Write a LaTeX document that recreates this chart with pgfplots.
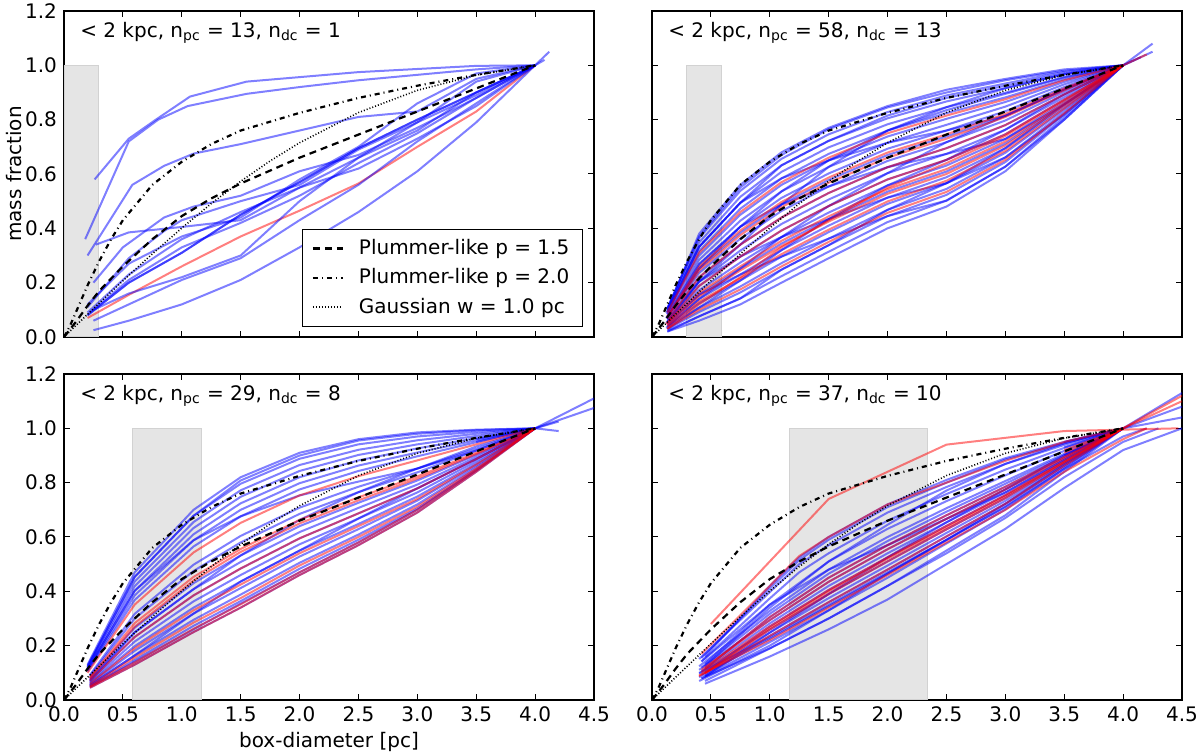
\documentclass[border=0pt]{standalone}
\usepackage{pgfplots}
\pgfplotsset{compat=1.18}
\usepackage{pgfplotstable}
\usepackage{fontspec}
\setmainfont{DejaVu Sans}
\newcommand{\fs}{\fontsize{10}{12}\selectfont}
\pgfplotsset{
  panel/.style={
    width=265pt, height=163pt, scale only axis,
    xmin=0, xmax=4.5, ymin=0, ymax=1.2,
    xtick={0,0.5,1,1.5,2,2.5,3,3.5,4,4.5},
    ytick={0,0.2,0.4,0.6,0.8,1.0,1.2},
    xticklabels={}, yticklabels={},
    tick align=inside, tick pos=both,
    major tick length=3pt,
    axis line style={line width=0.6pt},
    every tick/.style={black, line width=0.5pt},
    tick label style={font=\fs},
    label style={font=\fs},
    anchor=south west,
  },
  xlab/.style={xticklabels={0.0,0.5,1.0,1.5,2.0,2.5,3.0,3.5,4.0,4.5}},
  ylab/.style={yticklabels={0.0,0.2,0.4,0.6,0.8,1.0,1.2}},
  bl/.style={blue, draw opacity=0.5, line width=1pt, forget plot, line join=round},
  rd/.style={red, draw opacity=0.5, line width=1pt, forget plot, line join=round},
  shade/.style={fill=gray!20, draw=gray!35, line width=0.5pt, forget plot},
  pl15/.style={black, line width=1.1pt, dash pattern=on 3.5pt off 2.5pt},
  pl20/.style={black, line width=1.1pt, dash pattern=on 2.5pt off 2pt on 0.5pt off 2pt},
  gau/.style={black, line width=0.8pt, dash pattern=on 0.5pt off 1pt},
}
\pgfplotstableread{
x y
0 0
0.1 0.055
0.2 0.115
0.3 0.17
0.5 0.26
0.75 0.36
1.0 0.445
1.25 0.51
1.5 0.565
2.0 0.66
2.5 0.745
3.0 0.83
3.5 0.915
4.0 1.0
}\plumA
\pgfplotstableread{
x y
0 0
0.05 0.04
0.1 0.09
0.2 0.19
0.3 0.28
0.4 0.36
0.5 0.43
0.75 0.56
1.0 0.645
1.25 0.71
1.5 0.76
2.0 0.825
2.5 0.88
3.0 0.925
3.5 0.965
4.0 1.0
}\plumB
\pgfplotstableread{
x y
0 0
0.1 0.042
0.25 0.104
0.5 0.207
0.75 0.306
1.0 0.401
1.25 0.491
1.5 0.573
1.75 0.648
2.0 0.715
2.5 0.826
3.0 0.908
3.5 0.964
4.0 1.0
}\gauss
\newcommand{\refcurves}{%
  \addplot[pl15] table {\plumA};
  \addplot[pl20] table {\plumB};
  \addplot[gau] table {\gauss};
}
\begin{document}
\begin{tikzpicture}
\useasboundingbox (0,0) rectangle (600pt,377.5pt);

% ---------------- top left ----------------
\begin{axis}[panel, ylab, at={(32pt,209pt)},
  ylabel={mass fraction}, ylabel style={at={(axis description cs:-0.094,0.5)}, anchor=center},
  legend style={at={(axis description cs:1,0)}, anchor=south east, xshift=-5.5pt, yshift=5pt,
    draw=black, line width=0.7pt, font=\fs, row sep=1.6pt, column sep=5.5pt, inner xsep=4.5pt, inner ysep=3pt},
  legend image code/.code={\draw[#1] (0pt,0pt) -- (15pt,0pt);},
  legend cell align=left]
\addplot[shade] coordinates {(0,1) (0.29,1)} \closedcycle;
\addplot[bl] coordinates {(0.26,0.58) (0.55,0.73) (0.78,0.80) (1.07,0.885) (1.55,0.94) (2.5,0.975) (3.5,0.998) (4.0,1.0)};
\addplot[bl] coordinates {(0.18,0.36) (0.55,0.72) (0.8,0.80) (1.05,0.85) (1.55,0.895) (2.0,0.92) (2.5,0.945) (3.5,0.985) (4.0,1.0)};
\addplot[bl] coordinates {(0.2,0.30) (0.58,0.56) (0.85,0.63) (1.1,0.675) (1.5,0.71) (2.0,0.76) (2.5,0.81) (3.0,0.83) (3.5,0.95) (4.0,1.0)};
\addplot[bl] coordinates {(0.25,0.20) (0.5,0.33) (0.85,0.44) (1.1,0.48) (1.5,0.52) (2.0,0.61) (2.5,0.67) (3.0,0.77) (3.5,0.88) (4.0,1.0)};
\addplot[bl] coordinates {(0.27,0.34) (0.55,0.385) (1.0,0.405) (1.5,0.43) (2.0,0.55) (2.5,0.66) (3.0,0.76) (3.5,0.90) (4.0,1.0)};
\addplot[bl] coordinates {(0.2,0.08) (0.55,0.2) (1.0,0.31) (1.5,0.45) (2.0,0.57) (2.5,0.695) (3.0,0.80) (3.5,0.90) (4.0,1.0)};
\addplot[bl] coordinates {(0.2,0.08) (0.55,0.2) (1.0,0.31) (1.5,0.45) (2.0,0.57) (2.5,0.695) (3.0,0.80) (3.5,0.90) (4.0,1.0)};
\addplot[rd] coordinates {(0.2,0.07) (0.55,0.155) (1.0,0.26) (1.5,0.37) (2.0,0.465) (2.5,0.565) (3.0,0.70) (3.5,0.83) (4.0,1.0)};
\addplot[bl] coordinates {(0.25,0.025) (0.55,0.06) (1.0,0.12) (1.5,0.21) (2.0,0.33) (2.5,0.46) (3.0,0.61) (3.5,0.79) (4.0,1.0)};
\addplot[bl] coordinates {(0.25,0.06) (0.55,0.12) (1.0,0.21) (1.5,0.29) (2.0,0.43) (2.5,0.56) (3.0,0.72) (3.5,0.86) (4.0,1.0)};
\addplot[bl] coordinates {(0.2,0.09) (0.55,0.23) (1.0,0.36) (1.5,0.46) (2.0,0.55) (2.5,0.62) (3.0,0.73) (3.5,0.85) (4.0,1.0)};
\addplot[bl] coordinates {(0.2,0.11) (0.55,0.29) (0.85,0.39) (1.0,0.43) (1.5,0.50) (2.0,0.56) (2.5,0.69) (3.0,0.79) (3.5,0.89) (4.0,1.0)};
\addplot[bl] coordinates {(0.25,0.10) (0.55,0.16) (1.0,0.22) (1.5,0.30) (2.0,0.50) (2.5,0.66) (3.0,0.79) (3.5,0.94) (4.0,1.0)};
\addplot[bl] coordinates {(0.2,0.12) (0.55,0.27) (1.0,0.37) (1.5,0.44) (2.0,0.58) (2.5,0.70) (3.0,0.86) (3.5,0.97) (4.0,1.0) (4.12,1.05)};
\addplot[bl] coordinates {(0.22,0.09) (0.55,0.21) (1.0,0.33) (1.5,0.42) (2.0,0.52) (2.5,0.64) (3.0,0.75) (3.5,0.88) (4.0,1.0) (4.08,1.02)};
\addplot[pl15] table {\plumA}; \addlegendentry{Plummer-like p = 1.5}
\addplot[pl20] table {\plumB}; \addlegendentry{Plummer-like p = 2.0}
\addplot[gau] table {\gauss}; \addlegendentry{Gaussian w = 1.0 pc}
\node[anchor=base west, inner sep=0pt, font=\fs] at (rel axis cs:0.03,0.92) {< 2 kpc, n\textsubscript{pc} = 13, n\textsubscript{dc} = 1};
\end{axis}

% ---------------- top right ----------------
\begin{axis}[panel, at={(326pt,209pt)}]
\addplot[shade] coordinates {(0.29,1) (0.59,1)} \closedcycle;
\addplot[bl] coordinates {(0.13,0.02) (0.4,0.06) (0.75,0.12) (1.1,0.20) (1.5,0.29) (2.0,0.40) (2.5,0.48) (3.0,0.61) (3.5,0.80) (4.0,1)};
\addplot[bl] coordinates {(0.14,0.025) (0.4,0.076) (0.75,0.142) (1.1,0.224) (1.5,0.314) (2.0,0.423) (2.5,0.502) (3.0,0.627) (3.5,0.809) (4.0,1)};
\addplot[bl] coordinates {(0.13,0.029) (0.4,0.092) (0.75,0.164) (1.1,0.248) (1.5,0.338) (2.0,0.445) (2.5,0.523) (3.0,0.644) (3.5,0.819) (4.0,1)};
\addplot[bl] coordinates {(0.12,0.034) (0.4,0.108) (0.75,0.186) (1.1,0.272) (1.5,0.362) (2.0,0.468) (2.5,0.545) (3.0,0.661) (3.5,0.828) (4.0,1)};
\addplot[bl] coordinates {(0.13,0.038) (0.4,0.124) (0.75,0.208) (1.1,0.296) (1.5,0.386) (2.0,0.49) (2.5,0.566) (3.0,0.678) (3.5,0.837) (4.0,1)};
\addplot[bl] coordinates {(0.14,0.043) (0.4,0.14) (0.75,0.23) (1.1,0.32) (1.5,0.41) (2.0,0.513) (2.5,0.588) (3.0,0.695) (3.5,0.846) (4.0,1)};
\addplot[bl] coordinates {(0.13,0.047) (0.4,0.156) (0.75,0.252) (1.1,0.344) (1.5,0.434) (2.0,0.535) (2.5,0.609) (3.0,0.712) (3.5,0.856) (4.0,1)};
\addplot[bl] coordinates {(0.12,0.052) (0.4,0.172) (0.75,0.274) (1.1,0.368) (1.5,0.458) (2.0,0.558) (2.5,0.631) (3.0,0.729) (3.5,0.865) (4.0,1)};
\addplot[bl] coordinates {(0.13,0.056) (0.4,0.188) (0.75,0.296) (1.1,0.392) (1.5,0.482) (2.0,0.58) (2.5,0.652) (3.0,0.746) (3.5,0.874) (4.0,1)};
\addplot[bl] coordinates {(0.14,0.061) (0.4,0.204) (0.75,0.318) (1.1,0.416) (1.5,0.506) (2.0,0.603) (2.5,0.674) (3.0,0.763) (3.5,0.883) (4.0,1)};
\addplot[bl] coordinates {(0.13,0.065) (0.4,0.22) (0.75,0.34) (1.1,0.44) (1.5,0.53) (2.0,0.625) (2.5,0.695) (3.0,0.78) (3.5,0.893) (4.0,1)};
\addplot[bl] coordinates {(0.12,0.07) (0.4,0.236) (0.75,0.362) (1.1,0.464) (1.5,0.554) (2.0,0.648) (2.5,0.717) (3.0,0.797) (3.5,0.902) (4.0,1)};
\addplot[bl] coordinates {(0.13,0.074) (0.4,0.252) (0.75,0.384) (1.1,0.488) (1.5,0.578) (2.0,0.67) (2.5,0.738) (3.0,0.814) (3.5,0.911) (4.0,1)};
\addplot[bl] coordinates {(0.14,0.079) (0.4,0.268) (0.75,0.406) (1.1,0.512) (1.5,0.602) (2.0,0.693) (2.5,0.76) (3.0,0.831) (3.5,0.92) (4.0,1)};
\addplot[bl] coordinates {(0.13,0.083) (0.4,0.284) (0.75,0.428) (1.1,0.536) (1.5,0.626) (2.0,0.715) (2.5,0.781) (3.0,0.848) (3.5,0.93) (4.0,1)};
\addplot[bl] coordinates {(0.12,0.088) (0.4,0.30) (0.75,0.45) (1.1,0.56) (1.5,0.65) (2.0,0.738) (2.5,0.803) (3.0,0.865) (3.5,0.939) (4.0,1)};
\addplot[bl] coordinates {(0.13,0.092) (0.4,0.316) (0.75,0.472) (1.1,0.584) (1.5,0.674) (2.0,0.76) (2.5,0.824) (3.0,0.882) (3.5,0.948) (4.0,1)};
\addplot[bl] coordinates {(0.14,0.097) (0.4,0.332) (0.75,0.494) (1.1,0.608) (1.5,0.698) (2.0,0.783) (2.5,0.846) (3.0,0.899) (3.5,0.957) (4.0,1)};
\addplot[bl] coordinates {(0.13,0.101) (0.4,0.348) (0.75,0.516) (1.1,0.632) (1.5,0.722) (2.0,0.805) (2.5,0.867) (3.0,0.916) (3.5,0.967) (4.0,1)};
\addplot[bl] coordinates {(0.13,0.106) (0.4,0.364) (0.75,0.538) (1.1,0.656) (1.5,0.746) (2.0,0.828) (2.5,0.889) (3.0,0.933) (3.5,0.976) (4.0,1)};
\addplot[bl] coordinates {(0.14,0.11) (0.4,0.38) (0.75,0.56) (1.1,0.68) (1.5,0.77) (2.0,0.85) (2.5,0.91) (3.0,0.95) (3.5,0.985) (4.0,1)};
\addplot[bl] coordinates {(0.13,0.105) (0.4,0.37) (0.75,0.55) (1.1,0.67) (1.5,0.765) (2.0,0.845) (2.5,0.90) (3.0,0.945) (3.5,0.98) (4.0,1)};
\addplot[bl] coordinates {(0.13,0.038) (0.4,0.14) (0.75,0.252) (1.1,0.368) (1.5,0.482) (2.0,0.603) (2.5,0.717) (3.0,0.814) (3.5,0.911) (4.0,1)};
\addplot[bl] coordinates {(0.13,0.083) (0.4,0.268) (0.75,0.406) (1.1,0.488) (1.5,0.554) (2.0,0.625) (2.5,0.674) (3.0,0.729) (3.5,0.856) (4.0,1)};
\addplot[bl] coordinates {(0.13,0.029) (0.4,0.108) (0.75,0.208) (1.1,0.32) (1.5,0.434) (2.0,0.558) (2.5,0.652) (3.0,0.763) (3.5,0.893) (4.0,1)};
\addplot[bl] coordinates {(0.13,0.065) (0.4,0.204) (0.75,0.296) (1.1,0.368) (1.5,0.434) (2.0,0.513) (2.5,0.566) (3.0,0.661) (3.5,0.819) (4.0,1)};
\addplot[bl] coordinates {(0.13,0.056) (0.4,0.204) (0.75,0.34) (1.1,0.488) (1.5,0.626) (2.0,0.76) (2.5,0.846) (3.0,0.916) (3.5,0.967) (4.0,1)};
\addplot[bl] coordinates {(0.13,0.101) (0.4,0.332) (0.75,0.494) (1.1,0.584) (1.5,0.65) (2.0,0.715) (2.5,0.76) (3.0,0.814) (3.5,0.911) (4.0,1)};
\addplot[bl] coordinates {(0.13,0.02) (0.4,0.076) (0.75,0.142) (1.1,0.248) (1.5,0.338) (2.0,0.468) (2.5,0.566) (3.0,0.695) (3.5,0.856) (4.0,1)};
\addplot[bl] coordinates {(0.13,0.047) (0.4,0.156) (0.75,0.23) (1.1,0.296) (1.5,0.362) (2.0,0.445) (2.5,0.502) (3.0,0.627) (3.5,0.80) (4.0,1)};
\addplot[bl] coordinates {(0.13,0.074) (0.4,0.252) (0.75,0.406) (1.1,0.536) (1.5,0.65) (2.0,0.76) (2.5,0.835) (3.0,0.895) (3.5,0.955) (4.0,1)};
\addplot[bl] coordinates {(0.13,0.092) (0.4,0.332) (0.75,0.494) (1.1,0.632) (1.5,0.722) (2.0,0.815) (2.5,0.88) (3.0,0.925) (3.5,0.97) (4.0,1)};
\addplot[bl] coordinates {(3.9,0.98) (4.0,1.0) (4.25,1.08)};
\addplot[bl] coordinates {(3.9,0.985) (4.0,1.0) (4.25,1.05)};
\addplot[bl] coordinates {(3.85,0.97) (4.0,1.0) (4.15,1.03)};
\addplot[rd] coordinates {(0.13,0.072) (0.4,0.245) (0.75,0.375) (1.1,0.478) (1.5,0.568) (2.0,0.66) (2.5,0.73) (3.0,0.81) (3.5,0.908) (4.0,1)};
\addplot[rd] coordinates {(0.14,0.065) (0.4,0.22) (0.75,0.34) (1.1,0.44) (1.5,0.53) (2.0,0.625) (2.5,0.695) (3.0,0.78) (3.5,0.893) (4.0,1)};
\addplot[rd] coordinates {(0.13,0.045) (0.4,0.15) (0.75,0.245) (1.1,0.335) (1.5,0.425) (2.0,0.527) (2.5,0.60) (3.0,0.705) (3.5,0.852) (4.0,1)};
\addplot[rd] coordinates {(0.12,0.049) (0.4,0.163) (0.75,0.26) (1.1,0.354) (1.5,0.444) (2.0,0.544) (2.5,0.618) (3.0,0.72) (3.5,0.86) (4.0,1)};
\addplot[rd] coordinates {(0.13,0.04) (0.4,0.13) (0.75,0.216) (1.1,0.305) (1.5,0.395) (2.0,0.499) (2.5,0.575) (3.0,0.685) (3.5,0.841) (4.0,1)};
\addplot[rd] coordinates {(0.14,0.056) (0.4,0.188) (0.75,0.296) (1.1,0.392) (1.5,0.482) (2.0,0.58) (2.5,0.652) (3.0,0.746) (3.5,0.874) (4.0,1)};
\addplot[rd] coordinates {(0.13,0.031) (0.4,0.10) (0.75,0.175) (1.1,0.26) (1.5,0.35) (2.0,0.457) (2.5,0.534) (3.0,0.652) (3.5,0.823) (4.0,1)};
\addplot[rd] coordinates {(0.13,0.076) (0.4,0.258) (0.75,0.392) (1.1,0.497) (1.5,0.587) (2.0,0.679) (2.5,0.746) (3.0,0.821) (3.5,0.915) (4.0,1)};
\addplot[rd] coordinates {(0.13,0.03) (0.4,0.12) (0.75,0.22) (1.1,0.33) (1.5,0.43) (2.0,0.55) (2.5,0.64) (3.0,0.74) (3.5,0.87) (4.0,1)};
\addplot[rd] coordinates {(0.13,0.09) (0.4,0.31) (0.75,0.46) (1.1,0.57) (1.5,0.66) (2.0,0.75) (2.5,0.815) (3.0,0.875) (3.5,0.945) (4.0,1)};
\addplot[rd] coordinates {(3.9,0.99) (4.0,1.0) (4.2,1.04)};
\refcurves
\node[anchor=base west, inner sep=0pt, font=\fs] at (rel axis cs:0.03,0.92) {< 2 kpc, n\textsubscript{pc} = 58, n\textsubscript{dc} = 13};
\end{axis}

% ---------------- bottom left ----------------
\begin{axis}[panel, xlab, ylab, at={(32pt,27.5pt)},
  xlabel={box-diameter [pc]}, xlabel style={at={(axis description cs:0.5,-0.13)}, anchor=center}]
\addplot[shade] coordinates {(0.585,1) (1.17,1)} \closedcycle;
\addplot[bl] coordinates {(0.22,0.049) (0.6,0.147) (1.1,0.273) (1.5,0.364) (2.0,0.483) (2.5,0.590) (3.0,0.705) (3.5,0.848) (4.0,1)};
\addplot[bl] coordinates {(0.22,0.054) (0.6,0.164) (1.1,0.295) (1.5,0.388) (2.0,0.505) (2.5,0.609) (3.0,0.720) (3.5,0.856) (4.0,1)};
\addplot[bl] coordinates {(0.22,0.058) (0.6,0.181) (1.1,0.318) (1.5,0.412) (2.0,0.528) (2.5,0.629) (3.0,0.734) (3.5,0.863) (4.0,1)};
\addplot[bl] coordinates {(0.22,0.062) (0.6,0.198) (1.1,0.34) (1.5,0.436) (2.0,0.55) (2.5,0.648) (3.0,0.749) (3.5,0.871) (4.0,1)};
\addplot[bl] coordinates {(0.22,0.066) (0.6,0.215) (1.1,0.363) (1.5,0.46) (2.0,0.573) (2.5,0.668) (3.0,0.764) (3.5,0.879) (4.0,1)};
\addplot[bl] coordinates {(0.22,0.071) (0.6,0.232) (1.1,0.385) (1.5,0.484) (2.0,0.595) (2.5,0.687) (3.0,0.779) (3.5,0.887) (4.0,1)};
\addplot[bl] coordinates {(0.22,0.075) (0.6,0.249) (1.1,0.408) (1.5,0.508) (2.0,0.618) (2.5,0.707) (3.0,0.793) (3.5,0.894) (4.0,1)};
\addplot[bl] coordinates {(0.22,0.079) (0.6,0.266) (1.1,0.43) (1.5,0.532) (2.0,0.64) (2.5,0.726) (3.0,0.808) (3.5,0.902) (4.0,1)};
\addplot[bl] coordinates {(0.22,0.088) (0.6,0.30) (1.1,0.475) (1.5,0.58) (2.0,0.685) (2.5,0.765) (3.0,0.838) (3.5,0.918) (4.0,1)};
\addplot[bl] coordinates {(0.22,0.092) (0.6,0.317) (1.1,0.498) (1.5,0.604) (2.0,0.708) (2.5,0.785) (3.0,0.852) (3.5,0.925) (4.0,1)};
\addplot[bl] coordinates {(0.2,0.105) (0.6,0.368) (1.1,0.565) (1.5,0.676) (2.0,0.775) (2.5,0.843) (3.0,0.897) (3.5,0.949) (4.0,1)};
\addplot[bl] coordinates {(0.2,0.109) (0.6,0.385) (1.1,0.588) (1.5,0.70) (2.0,0.798) (2.5,0.863) (3.0,0.911) (3.5,0.956) (4.0,1)};
\addplot[bl] coordinates {(0.2,0.113) (0.6,0.402) (1.1,0.61) (1.5,0.724) (2.0,0.82) (2.5,0.882) (3.0,0.926) (3.5,0.964) (4.0,1)};
\addplot[bl] coordinates {(0.2,0.117) (0.6,0.419) (1.1,0.633) (1.5,0.748) (2.0,0.843) (2.5,0.902) (3.0,0.941) (3.5,0.972) (4.0,1)};
\addplot[bl] coordinates {(0.2,0.122) (0.6,0.436) (1.1,0.655) (1.5,0.772) (2.0,0.865) (2.5,0.921) (3.0,0.956) (3.5,0.980) (4.0,1)};
\addplot[bl] coordinates {(0.2,0.126) (0.6,0.453) (1.1,0.678) (1.5,0.796) (2.0,0.888) (2.5,0.941) (3.0,0.970) (3.5,0.987) (4.0,1)};
\addplot[bl] coordinates {(0.2,0.13) (0.6,0.47) (1.1,0.70) (1.5,0.82) (2.0,0.91) (2.5,0.96) (3.0,0.985) (3.5,0.995) (4.0,1)};
\addplot[bl] coordinates {(0.22,0.071) (0.6,0.249) (1.1,0.408) (1.5,0.532) (2.0,0.663) (2.5,0.765) (3.0,0.852) (3.5,0.933) (4.0,1)};
\addplot[bl] coordinates {(0.2,0.113) (0.6,0.402) (1.1,0.588) (1.5,0.676) (2.0,0.753) (2.5,0.804) (3.0,0.852) (3.5,0.918) (4.0,1)};
\addplot[bl] coordinates {(0.22,0.054) (0.6,0.164) (1.1,0.318) (1.5,0.436) (2.0,0.55) (2.5,0.668) (3.0,0.779) (3.5,0.887) (4.0,1)};
\addplot[bl] coordinates {(0.2,0.122) (0.6,0.453) (1.1,0.678) (1.5,0.808) (2.0,0.90) (2.5,0.955) (3.0,0.98) (3.5,0.993) (4.0,1)};
\addplot[bl] coordinates {(0.22,0.045) (0.6,0.13) (1.1,0.25) (1.5,0.34) (2.0,0.46) (2.5,0.57) (3.0,0.69) (3.5,0.84) (4.0,1)};
\addplot[bl] coordinates {(0.22,0.05) (0.6,0.14) (1.1,0.26) (1.5,0.355) (2.0,0.47) (2.5,0.58) (3.0,0.70) (3.5,0.845) (4.0,1)};
\addplot[bl] coordinates {(3.5,0.96) (4.0,1.0) (4.5,1.11)};
\addplot[bl] coordinates {(3.5,0.95) (4.0,1.0) (4.5,1.075)};
\addplot[bl] coordinates {(3.9,0.99) (4.0,1.0) (4.2,1.025)};
\addplot[bl] coordinates {(3.9,0.985) (4.0,1.0) (4.2,0.99)};
\addplot[rd] coordinates {(0.22,0.045) (0.6,0.13) (1.1,0.25) (1.5,0.34) (2.0,0.46) (2.5,0.57) (3.0,0.69) (3.5,0.84) (4.0,1)};
\addplot[rd] coordinates {(0.22,0.06) (0.6,0.19) (1.1,0.33) (1.5,0.425) (2.0,0.54) (2.5,0.64) (3.0,0.74) (3.5,0.867) (4.0,1)};
\addplot[rd] coordinates {(0.22,0.083) (0.6,0.283) (1.1,0.453) (1.5,0.556) (2.0,0.663) (2.5,0.746) (3.0,0.823) (3.5,0.910) (4.0,1)};
\addplot[rd] coordinates {(0.2,0.100) (0.6,0.351) (1.1,0.543) (1.5,0.652) (2.0,0.753) (2.5,0.824) (3.0,0.882) (3.5,0.941) (4.0,1)};
\addplot[rd] coordinates {(0.22,0.071) (0.6,0.232) (1.1,0.385) (1.5,0.484) (2.0,0.595) (2.5,0.687) (3.0,0.779) (3.5,0.887) (4.0,1)};
\addplot[rd] coordinates {(0.22,0.052) (0.6,0.156) (1.1,0.285) (1.5,0.375) (2.0,0.495) (2.5,0.60) (3.0,0.712) (3.5,0.852) (4.0,1)};
\addplot[rd] coordinates {(0.22,0.08) (0.6,0.27) (1.1,0.44) (1.5,0.545) (2.0,0.65) (2.5,0.735) (3.0,0.815) (3.5,0.905) (4.0,1)};
\addplot[rd] coordinates {(0.22,0.048) (0.6,0.138) (1.1,0.262) (1.5,0.352) (2.0,0.47) (2.5,0.58) (3.0,0.70) (3.5,0.846) (4.0,1)};
\refcurves
\node[anchor=base west, inner sep=0pt, font=\fs] at (rel axis cs:0.03,0.92) {< 2 kpc, n\textsubscript{pc} = 29, n\textsubscript{dc} = 8};
\end{axis}

% ---------------- bottom right ----------------
\begin{axis}[panel, xlab, at={(326pt,27.5pt)}]
\addplot[shade] coordinates {(1.165,1) (2.34,1)} \closedcycle;
\addplot[bl] coordinates {(0.45,0.07) (1.0,0.19) (1.5,0.30) (2.0,0.42) (2.5,0.55) (3.0,0.68) (3.5,0.84) (4.0,1)};
\addplot[bl] coordinates {(0.42,0.079) (1.0,0.213) (1.5,0.33) (2.0,0.45) (2.5,0.576) (3.0,0.701) (3.5,0.851) (4.0,1)};
\addplot[bl] coordinates {(0.4,0.084) (1.0,0.225) (1.5,0.345) (2.0,0.465) (2.5,0.589) (3.0,0.712) (3.5,0.857) (4.0,1)};
\addplot[bl] coordinates {(0.45,0.088) (1.0,0.236) (1.5,0.36) (2.0,0.48) (2.5,0.602) (3.0,0.722) (3.5,0.862) (4.0,1)};
\addplot[bl] coordinates {(0.42,0.093) (1.0,0.248) (1.5,0.375) (2.0,0.495) (2.5,0.615) (3.0,0.733) (3.5,0.868) (4.0,1)};
\addplot[bl] coordinates {(0.4,0.097) (1.0,0.259) (1.5,0.39) (2.0,0.51) (2.5,0.628) (3.0,0.743) (3.5,0.873) (4.0,1)};
\addplot[bl] coordinates {(0.45,0.102) (1.0,0.271) (1.5,0.405) (2.0,0.525) (2.5,0.641) (3.0,0.754) (3.5,0.879) (4.0,1)};
\addplot[bl] coordinates {(0.42,0.106) (1.0,0.282) (1.5,0.42) (2.0,0.54) (2.5,0.654) (3.0,0.764) (3.5,0.884) (4.0,1)};
\addplot[bl] coordinates {(0.4,0.111) (1.0,0.294) (1.5,0.435) (2.0,0.555) (2.5,0.667) (3.0,0.775) (3.5,0.890) (4.0,1)};
\addplot[bl] coordinates {(0.45,0.115) (1.0,0.305) (1.5,0.45) (2.0,0.57) (2.5,0.68) (3.0,0.785) (3.5,0.895) (4.0,1)};
\addplot[bl] coordinates {(0.42,0.120) (1.0,0.317) (1.5,0.465) (2.0,0.585) (2.5,0.693) (3.0,0.796) (3.5,0.901) (4.0,1)};
\addplot[bl] coordinates {(0.4,0.124) (1.0,0.328) (1.5,0.48) (2.0,0.60) (2.5,0.706) (3.0,0.806) (3.5,0.906) (4.0,1)};
\addplot[bl] coordinates {(0.45,0.133) (1.0,0.351) (1.5,0.51) (2.0,0.63) (2.5,0.732) (3.0,0.827) (3.5,0.917) (4.0,1)};
\addplot[bl] coordinates {(0.42,0.142) (1.0,0.374) (1.25,0.47) (1.5,0.54) (2.0,0.66) (2.5,0.758) (3.0,0.848) (3.5,0.928) (4.0,1)};
\addplot[bl] coordinates {(0.4,0.151) (1.0,0.397) (1.25,0.5) (1.5,0.57) (2.0,0.69) (2.5,0.784) (3.0,0.869) (3.5,0.939) (4.0,1)};
\addplot[bl] coordinates {(0.45,0.16) (1.0,0.42) (1.25,0.525) (1.5,0.60) (2.0,0.72) (2.5,0.81) (3.0,0.89) (3.5,0.95) (4.0,1)};
\addplot[bl] coordinates {(0.42,0.155) (1.0,0.41) (1.25,0.515) (1.5,0.59) (2.0,0.71) (2.5,0.80) (3.0,0.885) (3.5,0.945) (4.0,1)};
\addplot[bl] coordinates {(0.45,0.088) (1.0,0.248) (1.5,0.39) (2.0,0.525) (2.5,0.654) (3.0,0.775) (3.5,0.901) (4.0,1)};
\addplot[bl] coordinates {(0.42,0.142) (1.0,0.351) (1.5,0.48) (2.0,0.57) (2.5,0.667) (3.0,0.764) (3.5,0.884) (4.0,1)};
\addplot[bl] coordinates {(0.4,0.07) (1.0,0.20) (1.5,0.33) (2.0,0.465) (2.5,0.589) (3.0,0.722) (3.5,0.868) (4.0,1)};
\addplot[bl] coordinates {(0.45,0.124) (1.0,0.34) (1.5,0.51) (2.0,0.645) (2.5,0.771) (3.0,0.869) (3.5,0.945) (4.0,1)};
\addplot[bl] coordinates {(0.45,0.06) (1.0,0.16) (1.5,0.26) (2.0,0.37) (2.5,0.50) (3.0,0.63) (3.5,0.78) (4.0,0.92) (4.5,1.0)};
\addplot[bl] coordinates {(0.42,0.08) (1.0,0.19) (1.5,0.30) (2.0,0.42) (2.5,0.54) (3.0,0.67) (3.5,0.82) (4.0,0.95) (4.3,1.0)};
\addplot[bl] coordinates {(0.4,0.10) (1.0,0.23) (1.5,0.35) (2.0,0.47) (2.5,0.59) (3.0,0.71) (3.5,0.85) (4.0,0.97) (4.2,1.0)};
\addplot[bl] coordinates {(3.5,0.90) (4.0,1.0) (4.5,1.13)};
\addplot[bl] coordinates {(3.5,0.93) (4.0,1.0) (4.5,1.08)};
\addplot[bl] coordinates {(3.5,0.95) (4.0,1.0) (4.5,1.04)};
\addplot[rd] coordinates {(3.5,0.92) (4.0,1.0) (4.5,1.10)};
\addplot[rd] coordinates {(3.5,0.91) (4.0,1.0) (4.5,1.12)};
\addplot[rd] coordinates {(0.45,0.097) (1.0,0.259) (1.5,0.39) (2.0,0.51) (2.5,0.628) (3.0,0.743) (3.5,0.873) (4.0,1)};
\addplot[rd] coordinates {(0.42,0.102) (1.0,0.271) (1.5,0.405) (2.0,0.525) (2.5,0.641) (3.0,0.754) (3.5,0.879) (4.0,1)};
\addplot[rd] coordinates {(0.45,0.10) (1.0,0.265) (1.5,0.40) (2.0,0.52) (2.5,0.635) (3.0,0.75) (3.5,0.876) (4.0,1)};
\addplot[rd] coordinates {(0.4,0.088) (1.0,0.236) (1.5,0.36) (2.0,0.48) (2.5,0.602) (3.0,0.722) (3.5,0.862) (4.0,1)};
\addplot[rd] coordinates {(0.45,0.115) (1.0,0.305) (1.5,0.45) (2.0,0.57) (2.5,0.68) (3.0,0.785) (3.5,0.895) (4.0,1)};
\addplot[rd] coordinates {(0.42,0.111) (1.0,0.294) (1.5,0.435) (2.0,0.555) (2.5,0.667) (3.0,0.775) (3.5,0.890) (4.0,1)};
\addplot[rd] coordinates {(0.42,0.17) (1.0,0.42) (1.25,0.53) (1.5,0.60) (2.0,0.72) (2.5,0.80) (3.0,0.88) (3.5,0.95) (4.0,1.0)};
\addplot[rd] coordinates {(0.5,0.28) (1.5,0.74) (2.5,0.94) (3.5,0.99) (4.47,1.0)};
\addplot[rd] coordinates {(0.4,0.09) (1.0,0.22) (1.5,0.34) (2.0,0.46) (2.5,0.58) (3.0,0.70) (3.5,0.84) (4.0,0.96) (4.2,1.0)};
\refcurves
\node[anchor=base west, inner sep=0pt, font=\fs] at (rel axis cs:0.03,0.92) {< 2 kpc, n\textsubscript{pc} = 37, n\textsubscript{dc} = 10};
\end{axis}
\end{tikzpicture}
\end{document}
